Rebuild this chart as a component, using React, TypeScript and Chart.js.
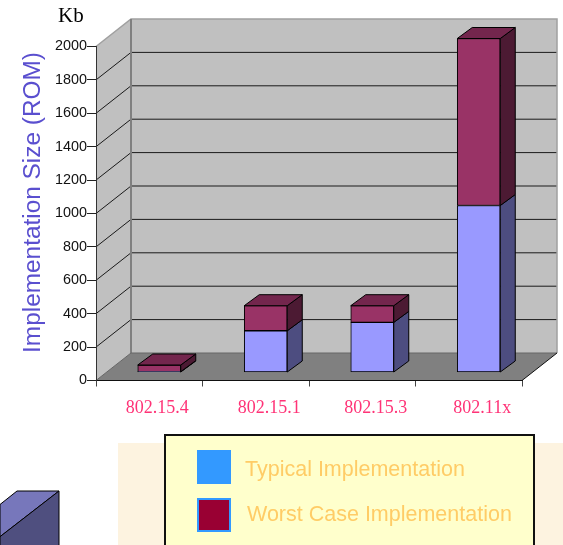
import React, { useEffect, useRef } from "react";
import { Chart, registerables } from "chart.js";

Chart.register(...registerables);

const categories = ["802.15.4", "802.15.1", "802.15.3", "802.11x"];
const typical = [5, 250, 300, 1000];
const worstCase = [40, 150, 100, 1000];
const legendLabels = ["Typical Implementation", "Worst Case Implementation"];
const legendSwatches = ["#3399FF", "#990033"];

const WALL = { dx: 35, dy: -27.5 };
const BAR_OFFSET = { x: 10, y: -8 };
const BAR_DEPTH = { dx: 15, dy: -11 };
const typicalShades = { front: "#9999FF", side: "#4D4D80" };
const worstShades = { front: "#993366", side: "#4C1A33", top: "#73264D" };

function poly(ctx: CanvasRenderingContext2D, pts: number[][], fill: string | null, stroke: string | null, lw = 1) {
  ctx.beginPath();
  pts.forEach((p, i) => (i ? ctx.lineTo(p[0], p[1]) : ctx.moveTo(p[0], p[1])));
  ctx.closePath();
  if (fill) {
    ctx.fillStyle = fill;
    ctx.fill();
  }
  if (stroke) {
    ctx.strokeStyle = stroke;
    ctx.lineWidth = lw;
    ctx.stroke();
  }
}

function line(ctx: CanvasRenderingContext2D, pts: number[][], stroke: string, lw = 1) {
  ctx.beginPath();
  pts.forEach((p, i) => (i ? ctx.lineTo(p[0], p[1]) : ctx.moveTo(p[0], p[1])));
  ctx.strokeStyle = stroke;
  ctx.lineWidth = lw;
  ctx.stroke();
}

const scenePlugin = {
  id: "scene",
  afterLayout(chart: any) {
    const yScale = chart.scales.y;
    if (!yScale.__shifted) {
      const orig = yScale.drawTitle.bind(yScale);
      yScale.drawTitle = () => {
        const c = chart.ctx;
        c.save();
        c.translate(0, -11);
        orig();
        c.restore();
      };
      yScale.__shifted = true;
    }
    const items = chart.scales.x.getLabelItems(chart.chartArea);
    if (items[0]) items[0].options.translation[0] -= 5.5;
  },
  beforeDraw(chart: any) {
    const ctx: CanvasRenderingContext2D = chart.ctx;
    const { left, right, top, bottom } = chart.chartArea;
    const { dx, dy } = WALL;
    ctx.save();
    ctx.fillStyle = "#FFFFFF";
    ctx.fillRect(0, 0, chart.width, chart.height);

    // left wall, back wall, floor
    poly(ctx, [[left, top], [left + dx, top + dy], [left + dx, bottom + dy], [left, bottom]], "#C0C0C0", null);
    poly(ctx, [[left + dx, top + dy], [right + dx, top + dy], [right + dx, bottom + dy], [left + dx, bottom + dy]], "#C0C0C0", null);
    poly(ctx, [[left, bottom], [left + dx, bottom + dy], [right + dx, bottom + dy], [right, bottom]], "#808080", null);

    // gridlines from the value axis
    const yScale = chart.scales.y;
    yScale.ticks.forEach((t: any) => {
      const y = yScale.getPixelForValue(t.value);
      if (t.value === 2000 || t.value === 0) return;
      line(ctx, [[left, y], [left + dx, y + dy], [right + dx, y + dy]], "#1A1A1A", 1);
    });
    line(ctx, [[left, top], [left + dx, top + dy], [right + dx, top + dy], [right + dx, bottom + dy]], "#A0A0A0", 1.5);
    line(ctx, [[left + dx, top + dy], [left + dx, bottom + dy]], "#808080", 2);
    line(ctx, [[left, bottom], [left + dx, bottom + dy], [right + dx, bottom + dy]], "#666666", 1);
    line(ctx, [[right, bottom], [right + dx, bottom + dy]], "#111111", 1);

    // backdrop behind the key
    ctx.fillStyle = "#FDF3E0";
    ctx.fillRect(118, 443, 445, 102);

    // corner block, cut by the page edge
    poly(ctx, [[17, 491], [59, 491], [0, 536.7], [0, 504.5]], "#7777BB", "#000000");
    poly(ctx, [[59, 491], [59, 546], [0, 546], [0, 536.7]], "#4F4F7F", "#000000");

    // key frame
    ctx.fillStyle = "#FFFFCC";
    ctx.fillRect(165, 434.5, 369, 112);
    ctx.strokeStyle = "#111111";
    ctx.lineWidth = 2;
    ctx.strokeRect(165, 435, 369, 112);

    // key swatches and texts
    ctx.fillStyle = legendSwatches[0];
    ctx.fillRect(197, 450, 34, 34);
    ctx.fillStyle = legendSwatches[1];
    ctx.fillRect(197, 498, 34, 34);
    ctx.strokeStyle = legendSwatches[0];
    ctx.lineWidth = 2;
    ctx.strokeRect(198, 499, 32, 32);
    ctx.fillStyle = "#FFCC66";
    ctx.font = "21.5px 'Liberation Sans'";
    ctx.textBaseline = "middle";
    ctx.textAlign = "left";
    ctx.fillText(legendLabels[0], 245, 470);
    ctx.fillText(legendLabels[1], 247, 515.5);

    // unit
    ctx.fillStyle = "#000000";
    ctx.font = "21px 'Liberation Serif'";
    ctx.textBaseline = "alphabetic";
    ctx.fillText("Kb", 58, 22);
    ctx.restore();
  },
  beforeDatasetsDraw(chart: any) {
    chart.ctx.save();
    chart.ctx.translate(BAR_OFFSET.x, BAR_OFFSET.y);
  },
  afterDatasetsDraw(chart: any) {
    const ctx: CanvasRenderingContext2D = chart.ctx;
    const { dx, dy } = BAR_DEPTH;
    chart.data.datasets.forEach((_: any, di: number) => {
      const shades: any = di === 0 ? typicalShades : worstShades;
      chart.getDatasetMeta(di).data.forEach((el: any) => {
        const { x, y, base, width } = el.getProps(["x", "y", "base", "width"], true);
        const l = x - width / 2;
        const r = x + width / 2;
        poly(ctx, [[r, y], [r + dx, y + dy], [r + dx, base + dy], [r, base]], shades.side, "#000000");
        if (shades.top) {
          poly(ctx, [[l, y], [l + dx, y + dy], [r + dx, y + dy], [r, y]], shades.top, "#000000");
        }
      });
    });
    ctx.restore();
  },
};

export default function App() {
  const ref = useRef<HTMLCanvasElement>(null);
  useEffect(() => {
    const chart = new Chart(ref.current as HTMLCanvasElement, {
      type: "bar",
      data: {
        labels: categories,
        datasets: [
          {
            label: legendLabels[0],
            data: typical,
            backgroundColor: typicalShades.front,
            borderColor: "#000000",
            borderWidth: 1,
            borderSkipped: false,
            barThickness: 43,
          },
          {
            label: legendLabels[1],
            data: worstCase,
            backgroundColor: worstShades.front,
            borderColor: "#000000",
            borderWidth: 1,
            borderSkipped: false,
            barThickness: 43,
          },
        ],
      },
      options: {
        animation: false,
        responsive: false,
        layout: { autoPadding: false, padding: { top: 46.5, right: 41, bottom: 0, left: 0 } },
        plugins: { legend: { display: false }, tooltip: { enabled: false } },
        scales: {
          x: {
            stacked: true,
            afterFit: (s: any) => {
              s.height = 164.5;
            },
            border: { color: "#111111", width: 1 },
            grid: { drawOnChartArea: false, drawTicks: true, tickLength: 6, tickColor: "#444444", offset: true },
            ticks: {
              color: "#FF3377",
              font: { family: "'Liberation Serif'", size: 18 },
              padding: 10.5,
              labelOffset: 13.5,
              maxRotation: 0,
              autoSkip: false,
            },
          },
          y: {
            stacked: true,
            min: 0,
            max: 2000,
            afterFit: (s: any) => {
              s.width = 96;
            },
            border: { color: "#333333", width: 1 },
            grid: { drawOnChartArea: false, drawTicks: true, tickLength: 9, tickColor: "#222222" },
            ticks: {
              stepSize: 200,
              color: "#111111",
              font: { family: "'Liberation Sans'", size: 14.4 },
              padding: 0,
              callback: (v: any) => String(v),
            },
            title: {
              display: true,
              text: "Implementation Size (ROM)",
              color: "#5A4FCF",
              font: { family: "'Liberation Sans'", size: 24.4 },
              padding: { top: 18.6, bottom: 0 },
            },
          },
        },
      },
      plugins: [scenePlugin],
    } as any);
    return () => chart.destroy();
  }, []);
  return (
    <div style={{ position: "absolute", left: 0, top: 0, width: 563, height: 545, overflow: "hidden" }}>
      <canvas ref={ref} width={563} height={545} style={{ display: "block" }} />
    </div>
  );
}
